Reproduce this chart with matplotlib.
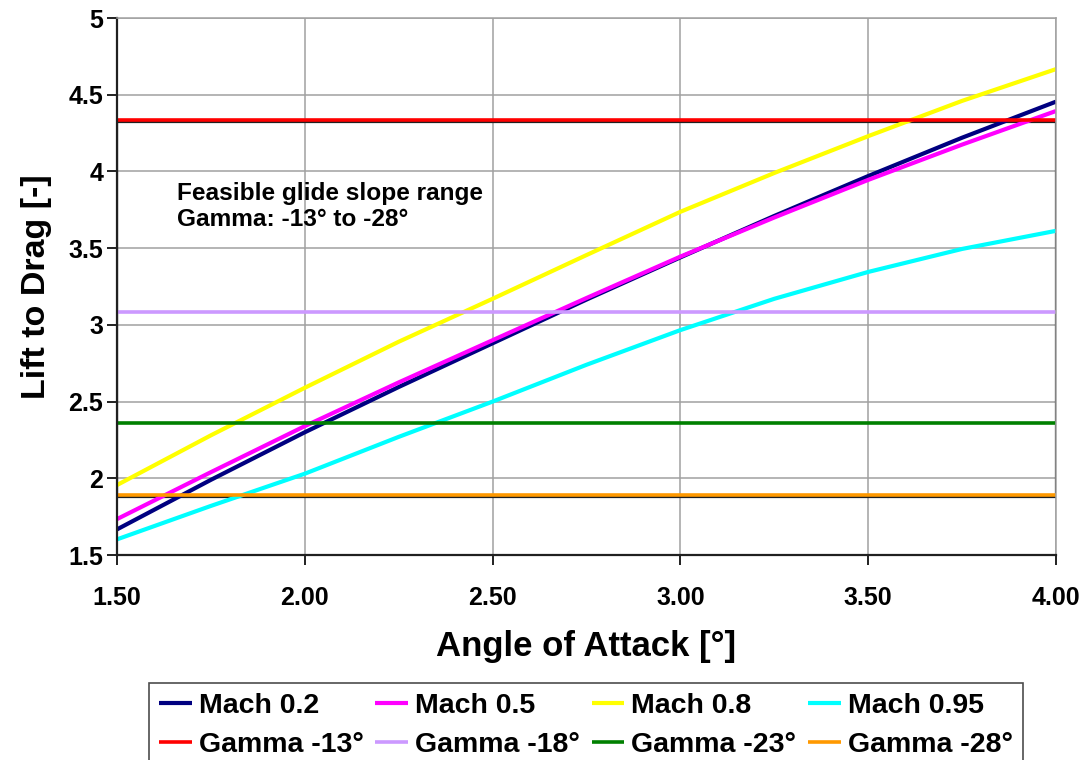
import matplotlib
matplotlib.use('Agg')
import matplotlib.pyplot as plt
from matplotlib.patches import Rectangle

plt.rcParams['font.family'] = ['Liberation Sans', 'DejaVu Sans']
plt.rcParams['font.weight'] = 'bold'

# angle of attack [deg]
aoa = [1.50, 1.75, 2.00, 2.25, 2.50, 2.75, 3.00, 3.25, 3.50, 3.75, 4.00]

# lift to drag for each Mach number
ld_m02 = [1.667, 1.99, 2.30, 2.595, 2.88, 3.165, 3.44, 3.71, 3.97, 4.22, 4.455]
ld_m05 = [1.734, 2.04, 2.34, 2.625, 2.90, 3.175, 3.445, 3.70, 3.945, 4.175, 4.394]
ld_m08 = [1.956, 2.28, 2.59, 2.89, 3.17, 3.455, 3.737, 3.99, 4.23, 4.46, 4.667]
ld_m095 = [1.602, 1.82, 2.03, 2.27, 2.50, 2.74, 2.966, 3.17, 3.345, 3.495, 3.613]

mach_labels = ['Mach 0.2', 'Mach 0.5', 'Mach 0.8', 'Mach 0.95']
mach_colors = ['#000080', '#FF00FF', '#FFFF00', '#00FFFF']

# glide slope limits (L/D = const)
gamma_ld = [4.335, 3.083, 2.362, 1.892]
gamma_labels = ['Gamma -13°', 'Gamma -18°', 'Gamma -23°', 'Gamma -28°']
gamma_colors = ['#FF0000', '#CC99FF', '#008000', '#FF9900']

fig = plt.figure(figsize=(10.82, 7.6), dpi=100)
ax = fig.add_axes([0.1081, 0.2697, 0.8679, 0.7066])

ax.set_xlim(1.5, 4.0)
ax.set_ylim(1.5, 5.0)
ax.set_xticks([1.5, 2.0, 2.5, 3.0, 3.5, 4.0])
ax.set_xticklabels(['%.2f' % v for v in [1.5, 2.0, 2.5, 3.0, 3.5, 4.0]])
ax.set_yticks([1.5, 2, 2.5, 3, 3.5, 4, 4.5, 5])
ax.set_yticklabels(['1.5', '2', '2.5', '3', '3.5', '4', '4.5', '5'])
ax.grid(True, color='#a0a0a0', lw=1.1)
ax.set_axisbelow(True)

# feasible range box
ax.add_patch(Rectangle((1.5, gamma_ld[3] - 0.012), 2.5, gamma_ld[0] - gamma_ld[3] + 0.002,
                       fill=False, ec='#202020', lw=1.6, zorder=1.5))

handles = []
for ys, lab, col in zip([ld_m02, ld_m05, ld_m08, ld_m095], mach_labels, mach_colors):
    h, = ax.plot(aoa, ys, color=col, lw=3, label=lab, solid_capstyle='butt', zorder=2)
    handles.append(h)
for yv, lab, col in zip(gamma_ld, gamma_labels, gamma_colors):
    h, = ax.plot([aoa[0], aoa[-1]], [yv, yv], color=col, lw=2.6, label=lab,
                 solid_capstyle='butt', zorder=2)
    handles.append(h)

ax.text(1.66, 3.77, 'Feasible glide slope range\nGamma: -13° to -28°',
        fontsize=17.6, fontweight='bold', va='center', ha='left', linespacing=1.15)

for s in ['left', 'bottom']:
    ax.spines[s].set_color('#202020')
    ax.spines[s].set_linewidth(1.6)
for s in ['top', 'right']:
    ax.spines[s].set_color('#a0a0a0')
    ax.spines[s].set_linewidth(1.1)

ax.tick_params(axis='both', direction='out', length=7, width=1.4, color='#202020',
               labelsize=18)
ax.tick_params(axis='x', pad=15)
ax.tick_params(axis='y', pad=3)

ax.set_xlabel('Angle of Attack [°]', fontsize=25, fontweight='bold', labelpad=15)
ax.set_ylabel('Lift to Drag [-]', fontsize=24.5, fontweight='bold', labelpad=12)

# legend order: Mach row then Gamma row
order = [0, 4, 1, 5, 2, 6, 3, 7]
leg = fig.legend([handles[i] for i in order], [handles[i].get_label() for i in order],
                 ncol=4, loc='upper center', bbox_to_anchor=(0.5416, 0.1013),
                 fontsize=20.5, frameon=True, fancybox=False, edgecolor='#202020',
                 handlelength=1.15, handletextpad=0.25, columnspacing=0.4,
                 labelspacing=0.45, borderpad=0.35, borderaxespad=0)
leg.get_frame().set_linewidth(1.2)
for t in leg.get_texts():
    t.set_fontweight('bold')

fig.savefig('out.png', dpi=100)
plt.close(fig)
